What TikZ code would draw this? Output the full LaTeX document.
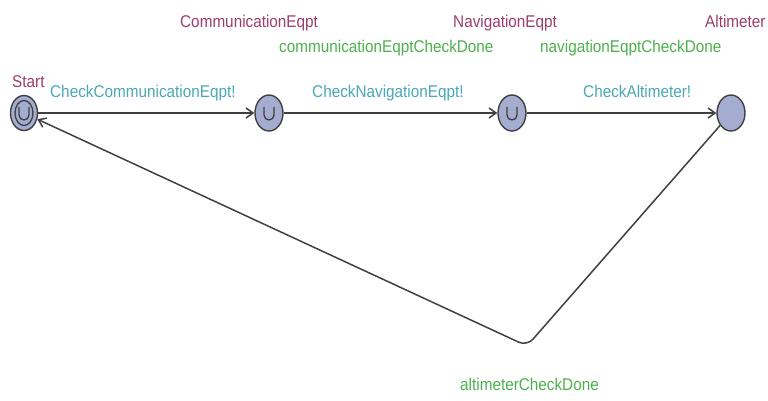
\documentclass[tikz,border=0pt]{standalone}
\usepackage{fontspec}
\setmainfont{Liberation Sans}[FakeStretch=0.9]
\usetikzlibrary{arrows.meta,shapes.geometric,calc}
\definecolor{locname}{HTML}{9B3D6B}
\definecolor{synccol}{HTML}{4AA7B5}
\definecolor{updcol}{HTML}{4CB04C}
\definecolor{locfill}{HTML}{A4ACD0}
\definecolor{edgecol}{HTML}{404040}
\tikzset{
  loc/.style={ellipse, draw=edgecol, line width=1.4pt, fill=locfill, minimum width=28pt, minimum height=36pt, inner sep=0pt},
  edge/.style={draw=edgecol, line width=1.5pt, -{Straight Barb[length=7pt,width=10pt,line width=1.5pt]}},
  usym/.style={draw=edgecol, line width=1.3pt},
  txt/.style={anchor=base west, inner sep=0pt, font=\fontsize{17pt}{20pt}\selectfont},
  lname/.style={txt, text=locname},
  lsync/.style={txt, text=synccol},
  lupd/.style={txt, text=updcol},
}
\begin{document}
\begin{tikzpicture}[x=1pt,y=-1pt]
\useasboundingbox (0,0) rectangle (768,401);
\node[loc, minimum width=27pt, minimum height=35pt] (start) at (24,113) {};
\draw[usym] (start) ellipse[x radius=9, y radius=12.5];
\node[loc] (comm) at (269,113) {};
\node[loc] (nav) at (512,113) {};
\node[loc] (alt) at (731,113) {};
\foreach \n in {start,comm,nav}{
  \draw[usym] ($(\n)+(-5,-6)$) -- ++(0,8) arc[start angle=180,end angle=0,radius=5] -- ++(0,-8);
}
\coordinate (corner) at (527,346);
\draw[edge] (start) -- (comm);
\draw[edge] (comm) -- (nav);
\draw[edge] (nav) -- (alt);
\draw[edge, rounded corners=9pt] (alt) -- (corner) -- (start);
\node[lname] (nstart) at (12,88) {Start};
\node[lname] (ncomm) at (180,28) {CommunicationEqpt};
\node[lname] (nnav) at (453,28) {NavigationEqpt};
\node[lname] (nalt) at (705,28) {Altimeter};
\node[lupd] (ucomm) at (279,53) {communicationEqptCheckDone};
\node[lupd] (unav) at (540,53) {navigationEqptCheckDone};
\node[lsync] (s1) at (50,98) {CheckCommunicationEqpt!};
\node[lsync] (s2) at (312,98) {CheckNavigationEqpt!};
\node[lsync] (s3) at (583,98) {CheckAltimeter!};
\node[lupd] (ualt) at (460,390) {altimeterCheckDone};
\end{tikzpicture}
\end{document}
